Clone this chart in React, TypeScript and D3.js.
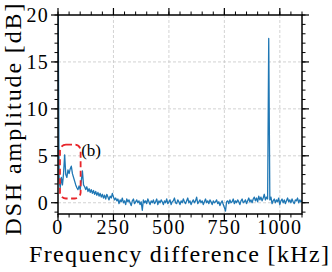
import { line, range, scaleLinear } from "d3";

// DSH amplitude [dB] sampled every 5 kHz from 0 to 1100 kHz
const stepKHz = 5;
const amplitude = [
  24, 2.3, 1.6, 2.7, 1.9, 3.1, 5.1, 3.0, 2.7, 3.5,
  3.1, 3.6, 3.9, 3.1, 2.7, 2.3, 1.9, 1.6, 1.4, 1.8,
  1.4, 2.3, 3.4, 1.9, 1.7, 1.4, 1.7, 1.2, 1.5, 1.1,
  1.4, 1.0, 1.3, 0.9, 1.2, 0.8, 1.1, 0.7, 1.0, 0.6,
  0.9, 0.5, 0.8, 0.4, 0.9, 0.6, 0.3, 0.7, 0.5, 1.0,
  0.6, 0.3, 0.5,
  0.2, 0.4, -0.1, 0.3, 0.1, 0.5, 0.0, 0.2, -0.2, 0.4,
  0.1, 0.3, 0.0, -0.3, 0.2, 0.4, -0.1, 0.1, 0.3, 0.0,
  0.2, -0.2, 0.1, -0.8, 0.3, 0.0, 0.2, -0.1, 0.4, 0.1,
  -0.2, 0.2, 0.0, 0.3, -0.1, 0.1, 0.4, -0.2, 0.2, 0.0,
  0.3, 0.1, -0.2, 0.2, 0.0, 0.4, -0.1, 0.1, 0.3, -0.2,
  0.1, 0.2, 0.5, 0.0, -0.1, 0.3, 0.1, -0.2, 0.2, 0.0,
  0.4, 0.1, -0.1, 0.2, 0.5, 0.0, 0.2, -0.2, 0.1, 0.3,
  0.0, 0.2, 0.6, -0.1, 0.1, 0.3, 0.0, 0.2, -0.2, 0.1,
  0.4, 0.0, 0.2, -0.1, 0.3, 0.1, -0.2, 0.2, 0.0, 0.1,
  0.3, -0.1, 0.1, -0.3, 0.0, 0.2, -0.2, -0.5, -0.9, 0.1,
  0.2, -0.1, 0.3, 0.0, 0.1, 0.4, -0.1, 0.2, 0.0, 0.3,
  0.1, -0.2, 0.2, 0.4, 0.0, 0.1, 0.3, -0.1, 0.2, 0.5,
  0.1, 0.3, 0.0, 0.4, 0.6, 0.2, 0.5, 0.1, 0.7, 0.3,
  0.6, 0.2, 0.5, 0.9, 0.3, 0.6, 0.4,
  17.5,
  0.3, 0.6, -0.1, 0.2, 0.4, 0.0, 0.3, 0.1, 0.5, -0.2,
  0.2, 0.4, 0.0, 0.3, -0.1, 0.2, 0.5, 0.1, 0.3, 0.0,
  0.4, 0.1, -0.1, 0.3, 0.2, 0.5, 0.0, 0.3, 0.1, 0.2,
];

const xTicks = [0, 250, 500, 750, 1000];
const yTicks = [0, 5, 10, 15, 20];
const xMinor = range(0, 1101, 50);
const yMinor = range(-1, 21, 1);

// highlighted region "(b)" in data units: [kHz0, kHz1, dB0, dB1]
const boxB = [9, 102, 0.45, 6.2];
const boxLabel = "(b)";

export default function App() {
  const width = 332;
  const height = 272;
  const left = 58;
  const right = 302;
  const top = 15;
  const bottom = 214;

  const x = scaleLinear().domain([0, 1100]).range([left, right]);
  const y = scaleLinear().domain([-1.2, 20]).range([bottom, top]);

  const path = line<number>()
    .x((_, i) => x(i * stepKHz))
    .y((d) => y(d))(amplitude);

  const font = "'Liberation Serif', 'DejaVu Serif', serif";
  const major = 7;
  const minor = 3.5;

  return (
    <svg
      width={width}
      height={height}
      style={{ position: "absolute", left: 0, top: 0 }}
      fontFamily={font}
    >
      <defs>
        <clipPath id="plot">
          <rect x={left} y={top} width={right - left} height={bottom - top} />
        </clipPath>
      </defs>

      {/* grid */}
      {xTicks.slice(1).map((t) => (
        <line
          key={"gx" + t}
          x1={x(t)}
          x2={x(t)}
          y1={top}
          y2={bottom}
          stroke="#c8c8c8"
          strokeWidth={0.8}
          strokeDasharray="3,2"
        />
      ))}
      {yTicks.slice(0, -1).map((t) => (
        <line
          key={"gy" + t}
          x1={left}
          x2={right}
          y1={y(t)}
          y2={y(t)}
          stroke="#c8c8c8"
          strokeWidth={0.8}
          strokeDasharray="3,2"
        />
      ))}

      <path
        d={path ?? ""}
        fill="none"
        stroke="#1f77b4"
        strokeWidth={1.3}
        strokeLinejoin="round"
        clipPath="url(#plot)"
      />

      <rect
        x={x(boxB[0])}
        y={y(boxB[3])}
        width={x(boxB[1]) - x(boxB[0])}
        height={y(boxB[2]) - y(boxB[3])}
        rx={6}
        fill="none"
        stroke="#e8262b"
        strokeWidth={1.8}
        strokeDasharray="6,3.5"
      />
      <text x={x(boxB[1]) + 0.5} y={y(boxB[3]) + 11} fontSize={17} fill="#000">
        {boxLabel}
      </text>

      {/* minor ticks */}
      {xMinor.map((t) => (
        <g key={"mx" + t}>
          <line x1={x(t)} x2={x(t)} y1={bottom} y2={bottom + minor} stroke="#000" strokeWidth={1} />
          <line x1={x(t)} x2={x(t)} y1={top} y2={top - minor} stroke="#000" strokeWidth={1} />
        </g>
      ))}
      {yMinor.map((t) => (
        <g key={"my" + t}>
          <line x1={left} x2={left - minor} y1={y(t)} y2={y(t)} stroke="#000" strokeWidth={1} />
          <line x1={right} x2={right + minor} y1={y(t)} y2={y(t)} stroke="#000" strokeWidth={1} />
        </g>
      ))}

      {/* major ticks + labels */}
      {xTicks.map((t) => (
        <g key={"tx" + t}>
          <line x1={x(t)} x2={x(t)} y1={bottom} y2={bottom + major} stroke="#000" strokeWidth={1.2} />
          <line x1={x(t)} x2={x(t)} y1={top} y2={top - major} stroke="#000" strokeWidth={1.2} />
          <text
            x={x(t)}
            y={234}
            fontSize={20}
            letterSpacing={1.3}
            textAnchor="middle"
            fill="#000"
          >
            {t}
          </text>
        </g>
      ))}
      {yTicks.map((t) => (
        <g key={"ty" + t}>
          <line x1={left} x2={left - major} y1={y(t)} y2={y(t)} stroke="#000" strokeWidth={1.2} />
          <line x1={right} x2={right + major} y1={y(t)} y2={y(t)} stroke="#000" strokeWidth={1.2} />
          <text
            x={left - 9}
            y={y(t)}
            dy="0.35em"
            fontSize={20}
            letterSpacing={1.3}
            textAnchor="end"
            fill="#000"
          >
            {t}
          </text>
        </g>
      ))}

      {/* frame */}
      <rect
        x={left}
        y={top}
        width={right - left}
        height={bottom - top}
        fill="none"
        stroke="#000"
        strokeWidth={1.5}
      />

      <text
        x={179}
        y={262}
        fontSize={24}
        textAnchor="middle"
        textLength={300}
        lengthAdjust="spacing"
        fill="#000"
      >
        Frequency difference [kHz]
      </text>
      <text
        transform={`translate(21,${(top + bottom) / 2 + 5}) rotate(-90)`}
        fontSize={24}
        textAnchor="middle"
        textLength={232}
        lengthAdjust="spacing"
        fill="#000"
      >
        DSH amplitude [dB]
      </text>
    </svg>
  );
}
